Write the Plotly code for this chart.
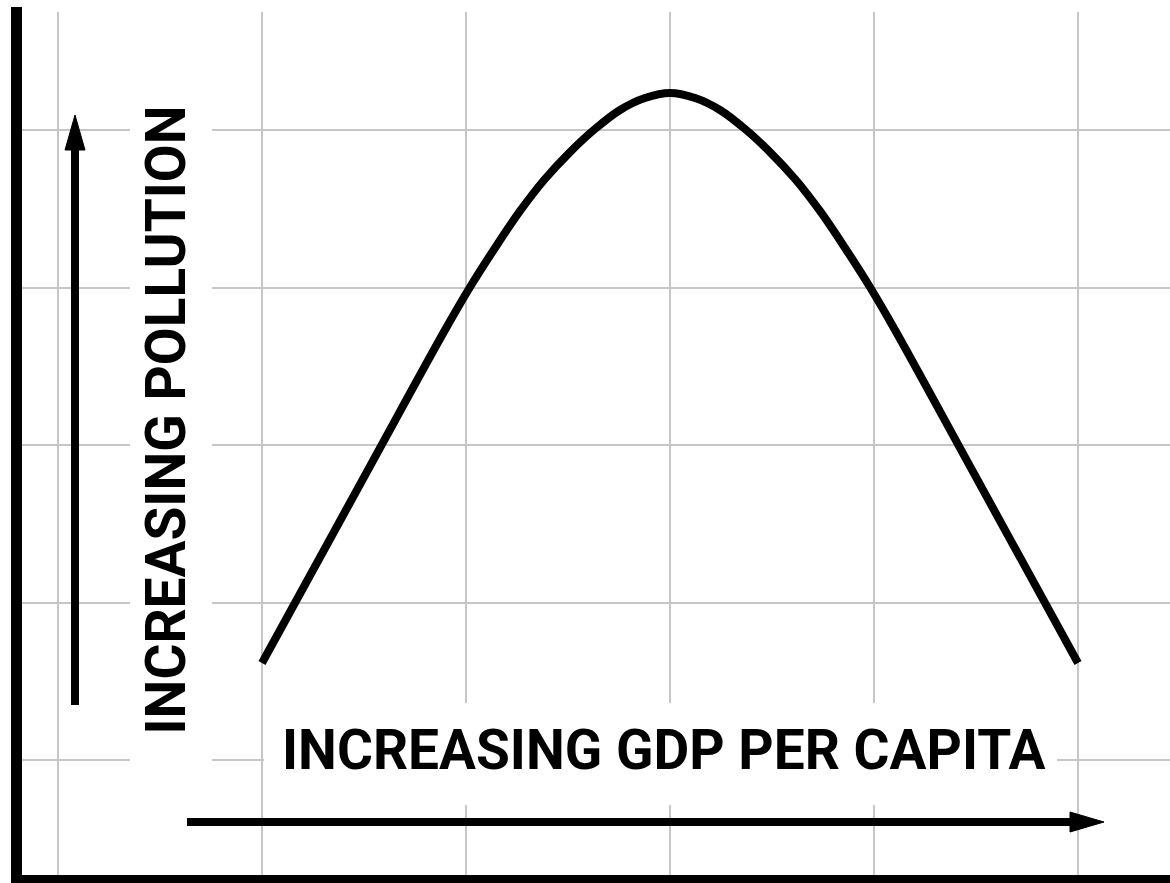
import plotly.graph_objects as go

# ---- data ----
gdp = [1.0, 1.529, 1.897, 2.020, 2.142, 2.265, 2.387, 2.510, 2.632, 2.755, 2.877, 3.0,
       3.123, 3.245, 3.368, 3.490, 3.613, 3.735, 3.858, 3.980, 4.103, 4.471, 5.0]
pollution = [0.616, 1.864, 2.730, 3.003, 3.251, 3.486, 3.689, 3.860, 4.006, 4.127, 4.203, 4.235,
             4.203, 4.127, 4.006, 3.860, 3.689, 3.486, 3.251, 3.003, 2.730, 1.864, 0.616]
x_label = "INCREASING GDP PER CAPITA"
y_label = "INCREASING POLLUTION"

W, H = 1170, 883
ML, MR, MT, MB = 22, 0, 7, 8
X_RANGE = [-0.17647, 5.45098]
Y_RANGE = [-0.7302, 4.7810]


def px2x(px):
    return X_RANGE[0] + (px - ML) * (X_RANGE[1] - X_RANGE[0]) / (W - ML - MR)


def py2y(py):
    return Y_RANGE[1] - (py - MT) * (Y_RANGE[1] - Y_RANGE[0]) / (H - MT - MB)


FONT = "Roboto, Liberation Sans, Arial, sans-serif"
FSIZE = 55

fig = go.Figure()
fig.add_trace(go.Scatter(x=gdp, y=pollution, mode="lines",
                         line=dict(color="black", width=8, shape="spline", smoothing=1.0),
                         hoverinfo="skip", showlegend=False))

shapes = []
# white boxes behind the labels (hide grid)
shapes.append(dict(type="rect", xref="x", yref="y", layer="between",
                   x0=px2x(130), x1=px2x(212), y0=py2y(110), y1=py2y(790),
                   fillcolor="white", line=dict(width=0)))
shapes.append(dict(type="rect", xref="x", yref="y", layer="between",
                   x0=px2x(264), x1=px2x(1057), y0=py2y(703), y1=py2y(805),
                   fillcolor="white", line=dict(width=0)))
shapes.append(dict(type="rect", xref="x", yref="y", layer="between",
                   x0=px2x(22), x1=px2x(1170), y0=py2y(7), y1=py2y(12),
                   fillcolor="white", line=dict(width=0)))
# vertical arrow
shapes.append(dict(type="line", xref="x", yref="y", layer="above",
                   x0=px2x(75), x1=px2x(75), y0=py2y(705), y1=py2y(145),
                   line=dict(color="black", width=8)))
shapes.append(dict(type="path", xref="x", yref="y", layer="above",
                   path="M {a},{b} L {c},{d} L {e},{d} Z".format(
                       a=px2x(75), b=py2y(115), c=px2x(65), d=py2y(150), e=px2x(85)),
                   fillcolor="black", line=dict(color="black", width=1)))
# horizontal arrow
shapes.append(dict(type="line", xref="x", yref="y", layer="above",
                   x0=px2x(187), x1=px2x(1075), y0=py2y(822), y1=py2y(822),
                   line=dict(color="black", width=8)))
shapes.append(dict(type="path", xref="x", yref="y", layer="above",
                   path="M {a},{b} L {c},{d} L {c},{e} Z".format(
                       a=px2x(1104), b=py2y(822), c=px2x(1070), d=py2y(812), e=py2y(832)),
                   fillcolor="black", line=dict(color="black", width=1)))

annotations = [
    dict(x=px2x(663.5), y=py2y(749.5), xref="x", yref="y", text=x_label,
         showarrow=False, xanchor="center", yanchor="middle",
         font=dict(family=FONT, size=FSIZE, color="black", weight="bold")),
    dict(x=px2x(165), y=py2y(420.5), xref="x", yref="y", text=y_label,
         showarrow=False, textangle=-90, xanchor="center", yanchor="middle",
         font=dict(family=FONT, size=FSIZE, color="black", weight="bold")),
]

axis_common = dict(showgrid=True, gridcolor="#c6c6c6", gridwidth=1.5,
                   zeroline=False, showticklabels=False, ticks="",
                   dtick=1, tick0=0, fixedrange=True)

fig.update_layout(
    width=W, height=H,
    margin=dict(l=ML, r=MR, t=MT, b=MB, pad=0),
    paper_bgcolor="white", plot_bgcolor="white",
    xaxis=dict(range=X_RANGE, showline=True, linewidth=8, linecolor="black", **axis_common),
    yaxis=dict(range=Y_RANGE, showline=True, linewidth=11, linecolor="black", **axis_common),
    shapes=shapes, annotations=annotations, showlegend=False,
)

fig.write_html("out.html", config={"displayModeBar": False},
               post_script="document.body.style.margin='0';document.body.style.overflow='hidden';")
